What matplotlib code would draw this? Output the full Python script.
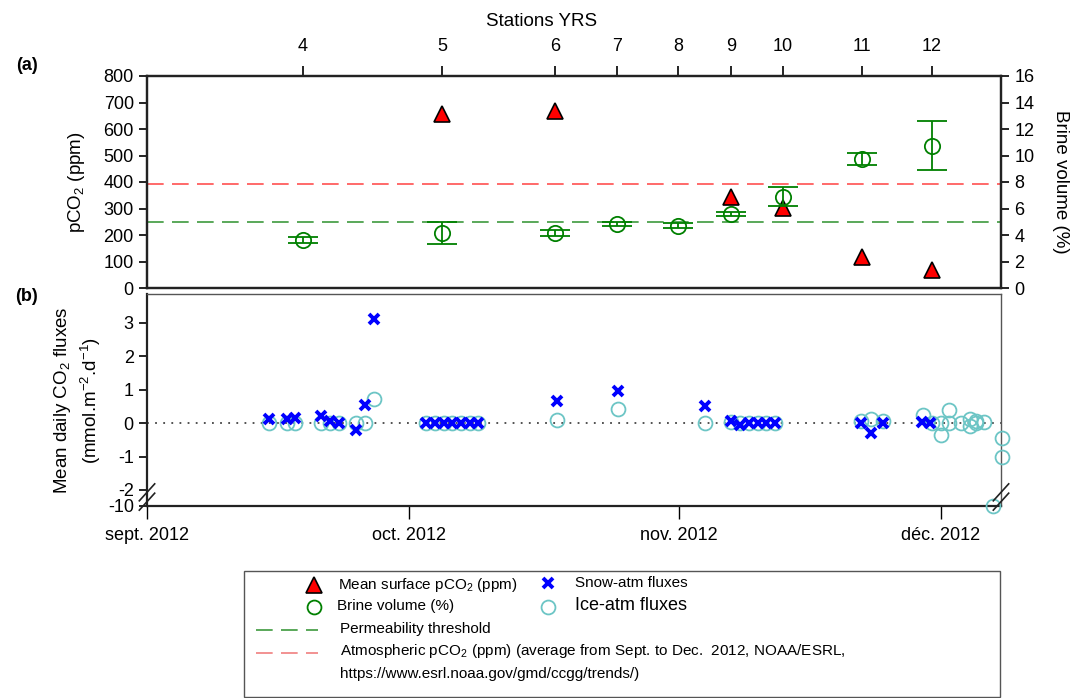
import pandas as pd
import numpy as np
import matplotlib
matplotlib.use("Agg")
import matplotlib.pyplot as plt
from matplotlib.lines import Line2D
from matplotlib.patches import Rectangle

plt.rcParams["font.family"] = ["Liberation Sans", "DejaVu Sans"]
plt.rcParams["mathtext.fontset"] = "custom"
plt.rcParams["mathtext.rm"] = "Liberation Sans"


def dates(lst):
    return pd.to_datetime(lst, format="ISO8601")


# Stations YRS (top axis)
station_names = ["4", "5", "6", "7", "8", "9", "10", "11", "12"]
station_dates = dates(["2012-09-18 20:00", "2012-10-04 20:00", "2012-10-17 20:00",
                       "2012-10-24 22:00", "2012-10-31 22:00", "2012-11-07 00:00",
                       "2012-11-12 22:00", "2012-11-22 00:00", "2012-11-30 00:00"])

# (a) surface pCO2 (ppm) at stations 5, 6, 9, 10, 11, 12
pco2_dates = station_dates[[1, 2, 5, 6, 7, 8]]
pco2_values = [657, 668, 343, 302, 117, 68]

# (a) brine volume (%) with error
brine_values = [3.62, 4.15, 4.15, 4.83, 4.70, 5.58, 6.89, 9.74, 10.74]
brine_err = [0.2, 0.85, 0.2, 0.15, 0.2, 0.12, 0.72, 0.45, 1.85]

permeability_threshold = 250   # ppm axis (= 5 % brine volume)
atm_pco2 = 392

# (b) snow-atm fluxes
snow_dates = dates([
    "2012-09-15", "2012-09-17", "2012-09-18", "2012-09-21", "2012-09-22", "2012-09-23",
    "2012-09-25", "2012-09-26", "2012-09-27",
    "2012-10-03", "2012-10-04", "2012-10-05", "2012-10-06", "2012-10-07", "2012-10-08", "2012-10-09",
    "2012-10-18", "2012-10-25", "2012-11-04",
    "2012-11-07", "2012-11-08", "2012-11-09", "2012-11-10", "2012-11-11", "2012-11-12",
    "2012-11-21 20:00", "2012-11-23", "2012-11-24 10:00", "2012-11-28 20:00", "2012-11-29 20:00"])
snow_flux = [0.12, 0.13, 0.16, 0.2, 0.05, 0.0,
             -0.2, 0.55, 3.1,
             0, 0, 0, 0, 0, 0, 0,
             0.65, 0.97, 0.5,
             0.07, -0.05, 0, 0, 0, 0,
             0, -0.3, 0, 0.03, 0]

# (b) ice-atm fluxes
ice_dates = dates([
    "2012-09-15", "2012-09-17", "2012-09-18", "2012-09-21", "2012-09-22", "2012-09-23",
    "2012-09-25", "2012-09-26", "2012-09-27",
    "2012-10-03", "2012-10-04", "2012-10-05", "2012-10-06", "2012-10-07", "2012-10-08", "2012-10-09",
    "2012-10-18", "2012-10-25", "2012-11-04",
    "2012-11-07", "2012-11-08", "2012-11-09", "2012-11-10", "2012-11-11", "2012-11-12",
    "2012-11-21 20:00", "2012-11-23", "2012-11-24 10:00",
    "2012-11-29", "2012-11-30", "2012-12-01", "2012-12-01", "2012-12-02", "2012-12-02",
    "2012-12-03 08:00", "2012-12-04 08:00", "2012-12-04 08:00", "2012-12-05", "2012-12-05",
    "2012-12-06", "2012-12-07", "2012-12-08", "2012-12-08"])
ice_flux = [0, 0, 0, 0, 0, 0,
            0, 0, 0.72,
            0, 0, 0, 0, 0, 0, 0,
            0.1, 0.42, 0,
            0.03, 0, 0, 0, 0, 0,
            0.05, 0.12, 0.05,
            0.23, 0, 0, -0.36, 0.38, 0,
            0, 0.13, -0.1, 0.07, 0,
            0.02, -10, -0.44, -1.02]

month_ticks = dates(["2012-09-01", "2012-10-01", "2012-11-01", "2012-12-01"])
month_labels = ["sept. 2012", "oct. 2012", "nov. 2012", "déc. 2012"]

W, H = 1084, 698
fig = plt.figure(figsize=(W / 100, H / 100), dpi=100)


def fx(px):
    return px / W


def fy(py):
    return 1 - py / H


TICK_FS = 13
LABEL_FS = 13.5
xmin, xmax = pd.Timestamp("2012-09-01"), pd.Timestamp("2012-12-07 22:00")

# ---------- panel (a) ----------
ax_a = fig.add_axes([fx(147), fy(288), fx(1001) - fx(147), fy(76) - fy(288)])
ax_a.axhline(atm_pco2, color="#ff5050", lw=1.2, dashes=(10, 5))
ax_a.axhline(permeability_threshold, color="#3d9a3d", lw=1.2, dashes=(10, 5))
ax_a.plot(pco2_dates, pco2_values, "^", color="red", mec="black", mew=1.2, ms=11, zorder=3)
ax_a.set_ylim(0, 800)
ax_a.set_yticks(range(0, 801, 100))
ax_a.set_xlim(xmin, xmax)
ax_a.set_xticks(station_dates)
ax_a.set_xticklabels(station_names)
ax_a.tick_params(axis="x", top=True, labeltop=True, bottom=False, labelbottom=False,
                 length=7, width=1.2, labelsize=TICK_FS, pad=8)
ax_a.tick_params(axis="y", length=6, width=1.2, labelsize=TICK_FS)
ax_a.set_ylabel("pCO$_2$ (ppm)", fontsize=LABEL_FS)
ax_a.yaxis.set_label_coords(-0.07, 0.5)
ax_a.set_xlabel("Stations YRS", fontsize=LABEL_FS)
ax_a.xaxis.set_label_position("top")
ax_a.xaxis.set_label_coords(0.4625, 1.235)
for s in ax_a.spines.values():
    s.set_linewidth(1.6)
    s.set_color("#222222")

ax_b2 = ax_a.twinx()
ax_b2.errorbar(station_dates, brine_values, yerr=brine_err, fmt="o", mfc="none",
               mec="green", ecolor="green", color="green", ms=11, mew=1.3,
               capsize=11, elinewidth=1.3, capthick=1.3)
ax_b2.set_ylim(0, 16)
ax_b2.set_yticks(range(0, 17, 2))
ax_b2.tick_params(axis="y", length=6, width=1.2, labelsize=TICK_FS)
ax_b2.set_ylabel("Brine volume (%)", fontsize=LABEL_FS, rotation=270)
ax_b2.yaxis.set_label_coords(1.08, 0.5)
for s in ax_b2.spines.values():
    s.set_linewidth(1.6)
    s.set_color("#222222")
ax_b2.set_xlim(xmin, xmax)

# ---------- panel (b) ----------
k = 0.06


def fwd(y):
    y = np.asarray(y, dtype=float)
    return np.where(y < -2, -2 + (y + 2) * k, y)


def inv(y):
    y = np.asarray(y, dtype=float)
    return np.where(y < -2, -2 + (y + 2) / k, y)


ax_b = fig.add_axes([fx(147), fy(506), fx(1001) - fx(147), fy(294) - fy(506)])
ax_b.set_yscale("function", functions=(fwd, inv))
ax_b.axhline(0, color="#444444", lw=1.3, linestyle=(0, (1, 3.5)))
ax_b.plot(ice_dates, ice_flux, "o", mfc="none", mec="#6cc5c5", mew=1.3, ms=10, clip_on=False, zorder=3)
ax_b.plot(snow_dates, snow_flux, "x", color="blue", mew=2.8, ms=7.5, zorder=4)
ax_b.set_ylim(-10, 3.86)
ax_b.set_yticks([-10, -2, -1, 0, 1, 2, 3])
ax_b.set_yticklabels(["-10", "-2", "-1", "0", "1", "2", "3"])
ax_b.set_xlim(xmin, xmax)
ax_b.set_xticks(month_ticks)
ax_b.set_xticklabels(month_labels)
ax_b.tick_params(axis="x", length=9, width=1.0, labelsize=TICK_FS, pad=6)
ax_b.tick_params(axis="y", length=6, width=1.2, labelsize=TICK_FS)
ax_b.set_ylabel("Mean daily CO$_2$ fluxes\n(mmol.m$^{-2}$.d$^{-1}$)", fontsize=LABEL_FS, linespacing=1.25)
ax_b.yaxis.set_label_coords(-0.052, 0.5)
ax_b.spines["left"].set_linewidth(1.6)
ax_b.spines["bottom"].set_linewidth(1.6)
ax_b.spines["left"].set_color("#222222")
ax_b.spines["bottom"].set_color("#222222")
ax_b.spines["top"].set_linewidth(1.0)
ax_b.spines["top"].set_color("#555555")
ax_b.spines["right"].set_linewidth(1.0)
ax_b.spines["right"].set_color("#555555")

# axis break marks
yb = (506 - 497) / 212
for xb in (0.0, 1.0):
    for off in (-0.022, 0.022):
        ax_b.plot([xb - 0.009, xb + 0.009], [yb - 0.04 + off, yb + 0.04 + off],
                  transform=ax_b.transAxes, color="#222222", lw=1.2, clip_on=False, zorder=5)

fig.text(fx(27), fy(65), "(a)", fontsize=13, fontweight="bold", ha="center", va="center")
fig.text(fx(27), fy(297), "(b)", fontsize=13, fontweight="bold", ha="center", va="center")

# ---------- legend ----------
fig.add_artist(Rectangle((fx(244), fy(697)), fx(1000) - fx(244), fy(571) - fy(697),
                         transform=fig.transFigure, fill=False, edgecolor="#555555", lw=1.0))


def leg_marker(px, py, **kw):
    fig.add_artist(Line2D([fx(px)], [fy(py)], transform=fig.transFigure, linestyle="none", **kw))


leg_marker(314, 585, marker="^", color="red", mec="black", mew=1.2, ms=11)
fig.text(fx(338), fy(585), "Mean surface pCO$_2$ (ppm)", fontsize=11, va="center")
leg_marker(548, 583, marker="x", color="blue", mew=2.8, ms=7)
fig.text(fx(575), fy(583), "Snow-atm fluxes", fontsize=11, va="center")
leg_marker(314, 607, marker="o", mfc="none", mec="green", mew=1.3, ms=10)
fig.text(fx(337), fy(606), "Brine volume (%)", fontsize=11, va="center")
leg_marker(548, 607, marker="o", mfc="none", mec="#6cc5c5", mew=1.3, ms=10)
fig.text(fx(575), fy(606), "Ice-atm fluxes", fontsize=13, va="center")
fig.add_artist(Line2D([fx(256), fx(318)], [fy(630), fy(630)], transform=fig.transFigure,
                      color="#3d9a3d", lw=1.2, dashes=(10, 5)))
fig.text(fx(340), fy(629), "Permeability threshold", fontsize=11, va="center")
fig.add_artist(Line2D([fx(256), fx(318)], [fy(653), fy(653)], transform=fig.transFigure,
                      color="#f07f7f", lw=1.2, dashes=(10, 5)))
fig.text(fx(340), fy(651), "Atmospheric pCO$_2$ (ppm) (average from Sept. to Dec.  2012, NOAA/ESRL,",
         fontsize=11, va="center")
fig.text(fx(340), fy(674), "https://www.esrl.noaa.gov/gmd/ccgg/trends/)", fontsize=11, va="center")

fig.savefig("out.png", dpi=100)
